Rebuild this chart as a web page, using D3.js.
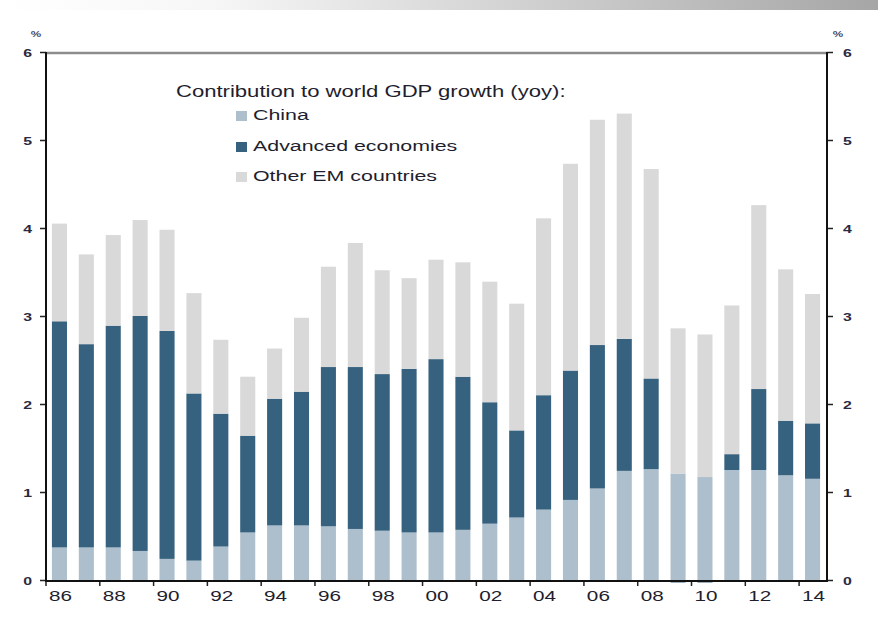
<!DOCTYPE html>
<html>
<head>
<meta charset="utf-8">
<script src="https://cdn.jsdelivr.net/npm/d3@7"></script>
<style>
  html, body { margin: 0; padding: 0; background: #fff; }
  svg { display: block; }
  text { font-family: "Liberation Sans", Arial, sans-serif; fill: #1e1e2e; }
</style>
</head>
<body>
<svg id="chart" width="878" height="621"></svg>
<script>
// Contribution to world GDP growth (yoy), percentage points
const yearLabels = ["1986","1987","1988","1989","1990","1991","1992","1993","1994","1995",
  "1996","1997","1998","1999","2000","2001","2002","2003","2004","2005",
  "2006","2007","2008","2009","2010","2011","2012","2013","2014"];
const china = [0.37,0.37,0.37,0.33,0.24,0.22,0.38,0.54,0.62,0.62,
  0.61,0.58,0.56,0.54,0.54,0.57,0.64,0.71,0.80,0.91,
  1.04,1.24,1.26,1.21,1.17,1.25,1.25,1.19,1.15];
const advanced = [2.57,2.31,2.52,2.67,2.59,1.90,1.51,1.10,1.44,1.52,
  1.81,1.84,1.78,1.86,1.97,1.74,1.38,0.99,1.30,1.47,
  1.63,1.50,1.03,-0.50,-0.50,0.18,0.92,0.62,0.63];
const otherEM = [1.11,1.02,1.03,1.09,1.15,1.14,0.84,0.67,0.57,0.84,
  1.14,1.41,1.18,1.03,1.13,1.30,1.37,1.44,2.01,2.35,
  2.56,2.56,2.38,1.65,1.62,1.69,2.09,1.72,1.47];
const yTicks = [0,1,2,3,4,5,6];
const xTickYears = ["1986","1988","1990","1992","1994","1996","1998","2000",
  "2002","2004","2006","2008","2010","2012","2014"];
const seriesNames = ["China","Advanced economies","Other EM countries"];
const seriesColors = ["#adbfcc","#36627f","#d9d9d9"];
const legendTitle = "Contribution to world GDP growth (yoy):";

const svg = d3.select("#chart");
const W = 878, H = 621;
const plotL = 46, plotR = 827, plotT = 52, plotB = 580;
const SX = 1.38; // horizontal stretch of the type

// header band
const defs = svg.append("defs");
const grad = defs.append("linearGradient").attr("id", "hdr").attr("x1", 0).attr("x2", 1);
grad.append("stop").attr("offset", "0%").attr("stop-color", "#ffffff");
grad.append("stop").attr("offset", "25%").attr("stop-color", "#f6f6f6");
grad.append("stop").attr("offset", "100%").attr("stop-color", "#a6a6a6");
svg.append("rect").attr("x", 0).attr("y", 0).attr("width", W).attr("height", 10).attr("fill", "url(#hdr)");

// the plot area clips bars, leaving only a sliver of negative values under the axis
defs.append("clipPath").attr("id", "plotClip")
  .append("rect").attr("x", plotL).attr("y", plotT).attr("width", plotR - plotL).attr("height", plotB - plotT + 2.5);

const x = d3.scaleBand().domain(yearLabels).range([plotL, plotR - 1]).paddingInner(0.44).paddingOuter(0.22);
const xb = d3.scaleBand().domain(yearLabels).range([plotL, plotR - 1]).padding(0);
const y = d3.scaleLinear().domain([0, 6]).range([plotB, plotT]);

const rows = yearLabels.map((yr, i) => ({ year: yr, china: china[i], advanced: advanced[i], otherEM: otherEM[i] }));
const keys = ["china", "advanced", "otherEM"];
const stacked = d3.stack().keys(keys).offset(d3.stackOffsetDiverging)(rows);

const barsG = svg.append("g").attr("clip-path", "url(#plotClip)");
stacked.forEach((layer, k) => {
  barsG.append("g").attr("fill", seriesColors[k])
    .selectAll("rect").data(layer).join("rect")
    .attr("x", d => x(d.data.year))
    .attr("width", x.bandwidth())
    .attr("y", d => y(Math.max(d[0], d[1])))
    .attr("height", d => Math.abs(y(d[0]) - y(d[1])));
});

// frame
svg.append("line").attr("x1", plotL).attr("x2", plotR).attr("y1", plotT + 1).attr("y2", plotT + 1)
  .attr("stroke", "#8c8c8c").attr("stroke-width", 2.5);

// left axis
const gL = svg.append("g").attr("transform", `translate(${plotL},0)`)
  .call(d3.axisLeft(y).tickValues(yTicks).tickFormat(d3.format("d")).tickSize(6));
gL.select(".domain").remove();
gL.selectAll(".tick line").attr("stroke", "#222").attr("stroke-width", 1.5);
gL.selectAll(".tick text").attr("x", null).attr("dy", "0.36em")
  .attr("transform", `translate(-14,0) scale(${SX},1)`)
  .style("font-size", "11.5px").style("font-weight", "bold").style("fill", "#2a2a40");

// right axis
const gR = svg.append("g").attr("transform", `translate(${plotR},0)`)
  .call(d3.axisRight(y).tickValues(yTicks).tickFormat(d3.format("d")).tickSize(6));
gR.select(".domain").remove();
gR.selectAll(".tick line").attr("stroke", "#222").attr("stroke-width", 1.5);
gR.selectAll(".tick text").attr("x", null).attr("dy", "0.36em")
  .attr("transform", `translate(16,0) scale(${SX},1)`)
  .style("font-size", "11.5px").style("font-weight", "bold").style("fill", "#2a2a40");

// bottom axis: labels under even years, tick marks at the start of each even-year band
const gB = svg.append("g").attr("transform", `translate(0,${plotB})`)
  .call(d3.axisBottom(xb).tickValues(xTickYears).tickFormat(d => d.slice(2)).tickSize(0));
gB.select(".domain").remove();
gB.selectAll(".tick text").attr("y", null).attr("dy", null)
  .attr("transform", `translate(1,21) scale(${SX},1)`)
  .style("font-size", "15px");
gB.selectAll(".tickmark").data(xTickYears).join("line").attr("class", "tickmark")
  .attr("x1", d => xb(d)).attr("x2", d => xb(d)).attr("y1", 0).attr("y2", 6)
  .attr("stroke", "#222").attr("stroke-width", 1.5);

// axis lines
svg.append("line").attr("x1", plotL).attr("x2", plotL).attr("y1", plotT).attr("y2", plotB + 1)
  .attr("stroke", "#111").attr("stroke-width", 2);
svg.append("line").attr("x1", plotR).attr("x2", plotR).attr("y1", plotT).attr("y2", plotB + 1)
  .attr("stroke", "#111").attr("stroke-width", 2);
svg.append("line").attr("x1", plotL - 1).attr("x2", plotR + 1).attr("y1", plotB + 1).attr("y2", plotB + 1)
  .attr("stroke", "#111").attr("stroke-width", 2);

// unit labels
[[36, "%"], [838, "%"]].forEach(([ux, t]) => {
  svg.append("text").attr("transform", `translate(${ux},37) scale(${SX},1)`)
    .attr("text-anchor", "middle").style("font-size", "8.5px").style("font-weight", "bold")
    .style("fill", "#4a4a66").text(t);
});

// legend
svg.append("text").attr("transform", `translate(176,97) scale(${SX},1)`)
  .style("font-size", "16px").text(legendTitle);
const legendY = [120, 151, 181];
seriesNames.forEach((name, i) => {
  svg.append("rect").attr("x", 236).attr("y", legendY[i] - 9).attr("width", 11).attr("height", 10)
    .attr("fill", seriesColors[i]);
  svg.append("text").attr("transform", `translate(253,${legendY[i]}) scale(${SX},1)`)
    .style("font-size", "15.5px").text(name);
});
</script>
</body>
</html>
